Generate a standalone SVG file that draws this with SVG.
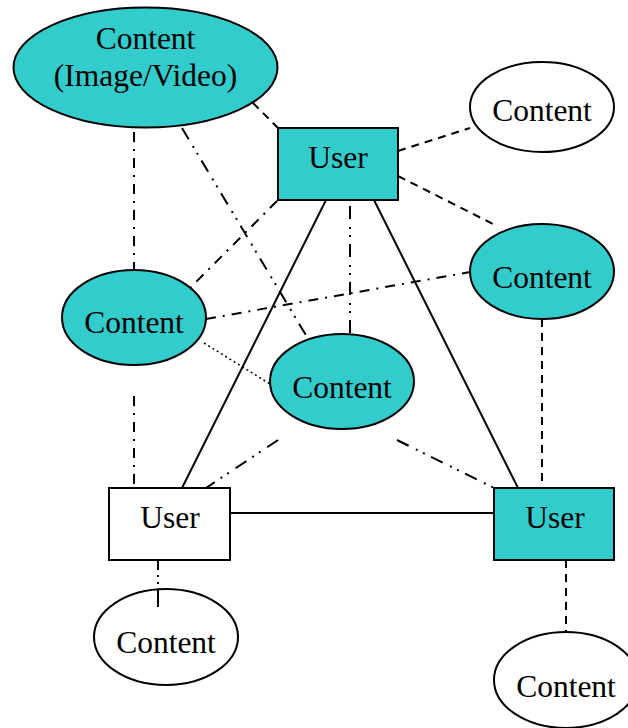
<svg xmlns="http://www.w3.org/2000/svg" width="628" height="728" viewBox="0 0 628 728">
<style>
.teal{fill:#33CCCC;stroke:#000;stroke-width:2}
.white{fill:#fff;stroke:#000;stroke-width:2}
text{font-family:"Liberation Serif","Times New Roman",serif;font-size:31.5px;fill:#000;text-anchor:middle}
.c{fill:none;stroke:#000;stroke-width:2}
.dash{stroke-dasharray:8 6}
.dd{stroke-dasharray:10 7 2 7}
.ddd{stroke-dasharray:13 8 2 6 2 7}
.dot{stroke-dasharray:2 3;stroke-width:1.5}
</style>
<rect width="628" height="728" fill="#fff"/>
<g id="content-image-video">
<ellipse class="teal" cx="145.5" cy="67.5" rx="132" ry="60"/>
<text x="145.5" y="49">Content</text>
<text x="145.5" y="86">(Image/Video)</text>
</g>
<g id="user-top">
<rect class="teal" x="278" y="128" width="120" height="72"/>
<text x="338" y="168">User</text>
</g>
<g id="content-top-right">
<ellipse class="white" cx="542" cy="107" rx="72" ry="45"/>
<text x="542" y="121">Content</text>
</g>
<g id="content-right">
<ellipse class="teal" cx="542" cy="271.5" rx="72" ry="47.5"/>
<text x="542" y="288">Content</text>
</g>
<g id="content-left">
<ellipse class="teal" cx="134" cy="317.5" rx="72" ry="47.5"/>
<text x="134" y="333">Content</text>
</g>
<g id="content-middle">
<ellipse class="teal" cx="342" cy="381.5" rx="72" ry="47.5"/>
<text x="342" y="398">Content</text>
</g>
<g id="user-bottom-left">
<rect class="white" x="109" y="488" width="121" height="72"/>
<text x="170" y="528">User</text>
</g>
<g id="user-bottom-right">
<rect class="teal" x="494" y="488" width="120" height="72"/>
<text x="555" y="528">User</text>
</g>
<g id="content-bottom-left">
<ellipse class="white" cx="166" cy="637" rx="72" ry="48"/>
<text x="166" y="653">Content</text>
</g>
<g id="content-bottom-right">
<ellipse class="white" cx="566" cy="680" rx="72" ry="48"/>
<text x="566" y="697">Content</text>
</g>
<g id="connectors">
<line class="c dash" x1="253" y1="103" x2="278" y2="128"/>
<line class="c dash" x1="398" y1="151" x2="470" y2="128"/>
<line class="c dash" x1="398" y1="176" x2="493" y2="224"/>
<line class="c" x1="326" y1="200" x2="182" y2="488"/>
<line class="c" x1="374" y1="200" x2="518" y2="488"/>
<line class="c ddd" x1="350" y1="206" x2="350" y2="334"/>
<line class="c dd" x1="277" y1="201" x2="191" y2="287"/>
<line class="c dd" x1="134" y1="132" x2="134" y2="270"/>
<line class="c ddd" x1="182" y1="128" x2="307" y2="337"/>
<line class="c dd" x1="206" y1="319" x2="470" y2="272"/>
<line class="c dot" x1="204" y1="343" x2="270" y2="384"/>
<line class="c dd" x1="134" y1="396" x2="134" y2="488"/>
<line class="c ddd" x1="278" y1="440" x2="206" y2="488"/>
<line class="c ddd" x1="397" y1="440" x2="494" y2="488"/>
<line class="c dash" x1="542" y1="319" x2="542" y2="488"/>
<line class="c" x1="230" y1="513" x2="494" y2="513"/>
<line class="c" stroke-dasharray="10 5 2 5 2 5 20" x1="158" y1="560" x2="158" y2="607"/>
<line class="c dash" x1="566" y1="560" x2="566" y2="632"/>
</g>
</svg>
